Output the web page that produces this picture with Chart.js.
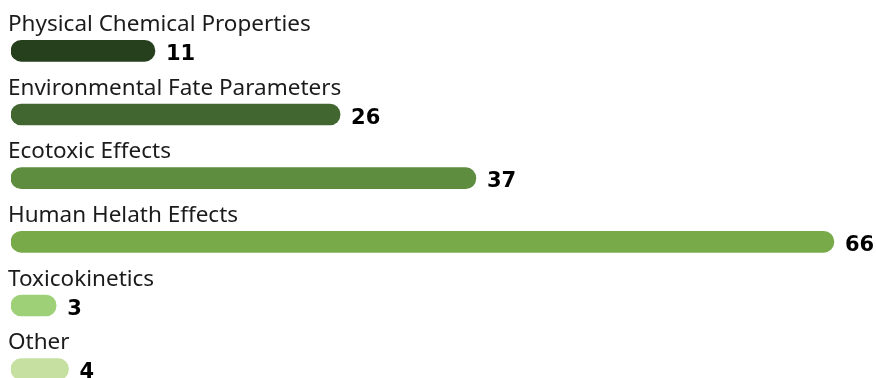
<!DOCTYPE html>
<html>
<head>
<meta charset="utf-8">
<script src="https://cdn.jsdelivr.net/npm/chart.js@4/dist/chart.umd.min.js"></script>
<style>
  html, body { margin: 0; padding: 0; background: #ffffff; overflow: hidden; width: 876px; height: 378px; }
  #wrap { width: 876px; height: 402px; }
</style>
</head>
<body>
<div id="wrap"><canvas id="chart" width="876" height="402"></canvas></div>
<script>
// Number of data entries per property category
const categories = [
  'Physical Chemical Properties',
  'Environmental Fate Parameters',
  'Ecotoxic Effects',
  'Human Helath Effects',
  'Toxicokinetics',
  'Other'
];
const counts = [11, 26, 37, 66, 3, 4];
const barColors = ['#263f1c', '#416630', '#5f8d40', '#78aa49', '#9ed078', '#c5e0a0'];

const LABEL_FONT = '22.5px "Noto Sans", sans-serif';
const VALUE_FONT = 'bold 21px "DejaVu Sans", sans-serif';

// Draws the category name above each bar and the count to its right
const barText = {
  id: 'barText',
  afterDatasetsDraw(chart) {
    const ctx = chart.ctx;
    const meta = chart.getDatasetMeta(0);
    ctx.save();
    ctx.textAlign = 'left';
    ctx.textBaseline = 'alphabetic';
    meta.data.forEach((bar, i) => {
      ctx.fillStyle = '#1b1b1b';
      ctx.font = LABEL_FONT;
      ctx.fillText(categories[i], 8, bar.y - 20);

      ctx.fillStyle = '#000000';
      ctx.font = VALUE_FONT;
      ctx.fillText(String(counts[i]), bar.x + 11, bar.y + 9);
    });
    ctx.restore();
  }
};

new Chart(document.getElementById('chart'), {
  type: 'bar',
  data: {
    labels: categories,
    datasets: [{
      data: counts,
      backgroundColor: barColors,
      base: -0.66,
      barThickness: 21,
      borderRadius: 11,
      borderSkipped: false
    }]
  },
  options: {
    indexAxis: 'y',
    responsive: false,
    animation: false,
    layout: { padding: { left: 11, right: 17.4, top: 19, bottom: 1 } },
    scales: {
      x: { display: false, min: -0.66, max: 68 },
      y: { display: false, offset: true }
    },
    plugins: {
      legend: { display: false },
      tooltip: { enabled: false }
    }
  },
  plugins: [barText]
});
</script>
</body>
</html>
